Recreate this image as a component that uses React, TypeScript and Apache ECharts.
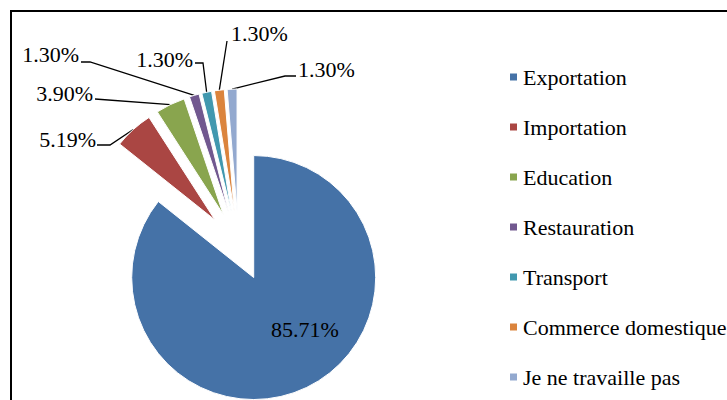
import React, { useEffect, useRef } from 'react';
import * as echarts from 'echarts';

const categories = [
  'Exportation',
  'Importation',
  'Education',
  'Restauration',
  'Transport',
  'Commerce domestique',
  'Je ne travaille pas',
];
const shares = [85.71, 5.19, 3.9, 1.3, 1.3, 1.3, 1.3];
const colors = ['#4572A7', '#AA4643', '#89A54E', '#71588F', '#4198AF', '#DB843D', '#93A9CF'];

// label placement (layout only): text anchor and leader-line bend points
const labelSpots: { x: number; y: number; align: string; line: number[][] }[] = [
  { x: 305, y: 329, align: 'center', line: [] },
  { x: 96, y: 139, align: 'right', line: [[110, 145], [97, 145]] },
  { x: 93, y: 93, align: 'right', line: [[95, 99]] },
  { x: 79, y: 54, align: 'right', line: [[90, 62], [81, 62]] },
  { x: 193, y: 59, align: 'right', line: [[203, 63], [195, 63]] },
  { x: 231, y: 33, align: 'left', line: [[227, 41]] },
  { x: 298, y: 69, align: 'left', line: [[285, 76], [296, 76]] },
];

const FONT = 'Liberation Serif';
const CENTER = [238.5, 246];
const RADIUS = 122;
const EXPLODE = 35;

export default function App() {
  const ref = useRef<HTMLDivElement>(null);
  useEffect(() => {
    if (!ref.current) return;
    const chart = echarts.init(ref.current, null, { renderer: 'svg' });
    chart.setOption({
      animation: false,
      color: colors,
      textStyle: { fontFamily: FONT, color: '#000' },
      graphic: [
        {
          type: 'rect',
          silent: true,
          z: -10,
          shape: { x: 11, y: 11, width: 900, height: 600 },
          style: { fill: 'none', stroke: '#000', lineWidth: 2 },
        },
      ],
      legend: {
        orient: 'vertical',
        left: 503,
        top: 61,
        itemWidth: 9,
        itemHeight: 9,
        itemGap: 28,
        icon: 'rect',
        selectedMode: false,
        data: categories,
        formatter: (name: string) => `{t|${name}}`,
        textStyle: {
          fontFamily: FONT,
          fontSize: 22,
          color: '#000',
          rich: { t: { fontFamily: FONT, fontSize: 22, color: '#000', lineHeight: 22 } },
        },
      },
      series: [
        {
          // exploded slices
          type: 'pie',
          center: CENTER,
          radius: [0, RADIUS],
          startAngle: 90,
          clockwise: true,
          selectedMode: 'multiple',
          selectedOffset: EXPLODE,
          avoidLabelOverlap: false,
          emphasis: { disabled: true },
          itemStyle: { borderColor: '#fff', borderWidth: 1 },
          label: { show: false },
          labelLine: { show: false },
          data: categories.map((name, i) => ({ name, value: shares[i], selected: true })),
        },
        {
          // label carrier: same angles, outer edge at the exploded slices' rim
          type: 'pie',
          silent: true,
          center: CENTER,
          radius: [0, RADIUS + EXPLODE],
          startAngle: 90,
          clockwise: true,
          avoidLabelOverlap: false,
          emphasis: { disabled: true },
          itemStyle: { color: 'rgba(0,0,0,0)', borderWidth: 0 },
          label: {
            show: true,
            fontFamily: FONT,
            fontSize: 22,
            color: '#000',
            formatter: (p: any) => `${Number(p.value).toFixed(2)}%`,
          },
          labelLine: { show: true, length: 10, length2: 10, lineStyle: { color: '#000', width: 1.3 } },
          labelLayout: (params: any) => {
            const s = labelSpots[params.dataIndex];
            const res: any = { x: s.x, y: s.y, align: s.align, verticalAlign: 'middle' };
            const pts = params.labelLinePoints;
            if (pts && pts.length && s.line.length) {
              res.labelLinePoints = [[pts[0][0], pts[0][1]], ...s.line.map((q) => [q[0], q[1]])];
            }
            return res;
          },
          data: categories.map((name, i) => ({
            name,
            value: shares[i],
            ...(i === 0 ? { labelLine: { show: false } } : {}),
          })),
        },
      ],
    });
    return () => chart.dispose();
  }, []);
  return (
    <div
      ref={ref}
      style={{ position: 'absolute', left: 0, top: 0, width: 727, height: 400, background: '#fff' }}
    />
  );
}
